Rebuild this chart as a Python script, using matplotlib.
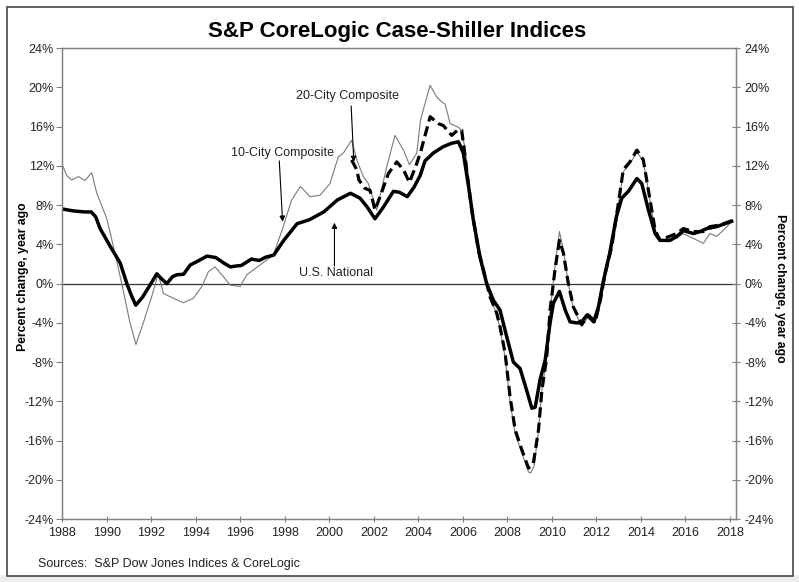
import matplotlib.pyplot as plt
from matplotlib.patches import Rectangle

plt.rcParams['font.family'] = ['Liberation Sans', 'DejaVu Sans']

# Year-over-year % change (decimal year, value)
us_national = [
    (1988.0, 7.6), (1988.5, 7.4), (1989.0, 7.3), (1989.3, 7.3), (1989.5, 6.8), (1989.7, 5.6),
    (1990.15, 3.8), (1990.6, 2.1), (1990.9, 0.0), (1991.12, -1.3), (1991.3, -2.2), (1991.6, -1.4),
    (1991.9, -0.3), (1992.25, 1.0), (1992.45, 0.5), (1992.7, 0.0), (1992.95, 0.7), (1993.15, 0.9),
    (1993.45, 0.95), (1993.75, 1.9), (1994.1, 2.3), (1994.5, 2.8), (1994.9, 2.65), (1995.25, 2.1),
    (1995.55, 1.7), (1995.85, 1.8), (1996.05, 1.85), (1996.5, 2.5), (1996.85, 2.35), (1997.15, 2.7),
    (1997.5, 2.9), (1997.95, 4.4), (1998.55, 6.1), (1999.1, 6.5), (1999.75, 7.3), (2000.35, 8.5),
    (2000.6, 8.8), (2000.95, 9.2), (2001.38, 8.7), (2001.7, 7.8), (2002.05, 6.6), (2002.43, 7.8),
    (2002.88, 9.4), (2003.15, 9.3), (2003.5, 8.85), (2003.8, 9.8), (2004.08, 11.0), (2004.3, 12.5),
    (2004.67, 13.3), (2005.12, 13.95), (2005.5, 14.3), (2005.8, 14.45), (2006.02, 13.3),
    (2006.25, 10.0), (2006.47, 6.5), (2006.77, 2.7), (2007.07, 0.0), (2007.37, -1.7),
    (2007.67, -2.7), (2007.97, -5.4), (2008.27, -8.0), (2008.57, -8.65), (2008.87, -10.9),
    (2009.1, -12.7), (2009.25, -12.6), (2009.47, -9.8), (2009.7, -7.8), (2009.92, -4.0),
    (2010.07, -2.0), (2010.34, -0.8), (2010.6, -2.7), (2010.82, -3.9), (2011.1, -4.0),
    (2011.3, -4.0), (2011.58, -3.2), (2011.88, -3.9), (2012.09, -2.4), (2012.31, 0.2),
    (2012.6, 3.1), (2012.9, 6.8), (2013.14, 8.7), (2013.44, 9.4), (2013.82, 10.7), (2014.04, 10.2),
    (2014.34, 7.5), (2014.64, 5.1), (2014.86, 4.4), (2015.31, 4.4), (2015.61, 4.8), (2015.91, 5.4),
    (2016.36, 5.1), (2016.66, 5.3), (2016.96, 5.6), (2017.41, 5.8), (2017.71, 6.05), (2018.08, 6.35),
]

city10 = [
    (1988.0, 12.1), (1988.2, 11.0), (1988.42, 10.55), (1988.72, 10.9), (1989.02, 10.5),
    (1989.32, 11.3), (1989.55, 9.2), (1990.0, 6.6), (1990.3, 3.75), (1990.67, 0.0), (1991.04, -4.0),
    (1991.31, -6.2), (1991.64, -4.0), (1992.02, -1.3), (1992.31, 1.0), (1992.54, -1.0),
    (1992.99, -1.5), (1993.44, -1.95), (1993.89, -1.5), (1994.27, -0.3), (1994.56, 1.2),
    (1994.86, 1.7), (1995.24, 0.7), (1995.54, -0.15), (1995.99, -0.3), (1996.29, 0.9),
    (1996.89, 1.9), (1997.48, 2.9), (1997.93, 5.8), (1998.3, 8.5), (1998.7, 9.9), (1999.13, 8.85),
    (1999.58, 9.0), (2000.03, 10.2), (2000.4, 12.9), (2000.63, 13.3), (2001.0, 14.6),
    (2001.25, 12.5), (2001.53, 10.9), (2001.75, 10.2), (2002.13, 7.5), (2002.58, 11.9),
    (2002.95, 15.1), (2003.33, 13.6), (2003.6, 12.1), (2003.93, 13.3), (2004.1, 16.7),
    (2004.53, 20.2), (2004.83, 19.0), (2005.05, 18.5), (2005.2, 18.3), (2005.43, 16.3),
    (2005.73, 16.0), (2005.87, 15.8), (2006.1, 13.9), (2006.4, 7.6), (2006.7, 3.4), (2007.0, 0.6),
    (2007.22, -1.4), (2007.52, -3.1), (2007.67, -4.6), (2007.9, -7.5), (2008.12, -12.0),
    (2008.35, -15.3), (2008.66, -17.3), (2008.95, -19.2), (2009.05, -19.3), (2009.2, -18.6),
    (2009.4, -15.0), (2009.55, -10.9), (2009.77, -7.5), (2009.92, -2.9), (2010.14, 1.8),
    (2010.34, 5.3), (2010.52, 3.4), (2010.74, 0.0), (2010.97, -2.6), (2011.19, -3.6),
    (2011.34, -4.3), (2011.64, -3.4), (2011.95, -4.0), (2012.18, -1.8), (2012.39, 0.9),
    (2012.69, 3.6), (2012.99, 8.0), (2013.21, 11.4), (2013.51, 12.2), (2013.82, 13.4),
    (2014.11, 12.5), (2014.34, 9.4), (2014.64, 5.3), (2014.86, 4.3), (2015.16, 4.5), (2015.61, 4.6),
    (2015.91, 5.1), (2016.36, 4.6), (2016.81, 4.1), (2017.1, 5.1), (2017.41, 4.8), (2017.71, 5.45),
    (2018.08, 6.3),
]

city20 = [
    (2001.0, 12.6), (2001.23, 11.6), (2001.33, 10.55), (2001.6, 9.7), (2001.83, 9.5),
    (2002.05, 7.5), (2002.28, 8.85), (2002.65, 11.2), (2003.03, 12.4), (2003.33, 11.6),
    (2003.6, 10.3), (2003.93, 12.25), (2004.1, 13.4), (2004.53, 17.0), (2004.9, 16.3),
    (2005.12, 16.1), (2005.5, 15.1), (2005.8, 15.7), (2005.95, 15.6), (2006.17, 11.6),
    (2006.4, 7.5), (2006.7, 3.4), (2007.0, 0.7), (2007.22, -1.35), (2007.52, -3.0),
    (2007.67, -4.4), (2007.9, -7.1), (2008.12, -11.5), (2008.35, -14.9), (2008.66, -17.0),
    (2008.95, -18.8), (2009.17, -18.3), (2009.4, -14.9), (2009.55, -10.9), (2009.77, -7.5),
    (2009.92, -2.7), (2010.14, 1.4), (2010.34, 4.4), (2010.52, 3.1), (2010.74, 0.0),
    (2010.97, -2.4), (2011.19, -3.4), (2011.34, -4.2), (2011.64, -3.2), (2011.95, -3.9),
    (2012.18, -1.7), (2012.39, 1.0), (2012.69, 3.75), (2012.99, 8.2), (2013.21, 11.6),
    (2013.51, 12.4), (2013.82, 13.6), (2014.11, 12.6), (2014.34, 9.5), (2014.64, 5.45),
    (2014.86, 4.4), (2015.16, 4.7), (2015.61, 5.1), (2015.91, 5.6), (2016.36, 5.3),
    (2016.81, 5.3), (2017.1, 5.8), (2017.55, 5.96), (2018.08, 6.4),
]

year_ticks = list(range(1988, 2019, 2))
pct_ticks = list(range(-24, 25, 4))

fig = plt.figure(figsize=(7.99, 5.82), dpi=100)
fig.patch.set_facecolor('white')

# outer frame with a light shadow below
fig.patches.append(Rectangle((0, 0), 1, 0.012, transform=fig.transFigure,
                             facecolor='#eeeeee', edgecolor='none', zorder=0))
fig.patches.append(Rectangle((0.009, 0.01), 0.983, 0.978, transform=fig.transFigure,
                             facecolor='none', edgecolor='#555555', lw=1.3, zorder=1))

ax = fig.add_axes([0.078, 0.108, 0.843, 0.8095])
grey = '#808080'
fs = 9

x, y = zip(*city10)
ax.plot(x, y, color='#7a7a7a', lw=0.8, zorder=3)
x, y = zip(*city20)
ax.plot(x, y, color='black', lw=2.3, dashes=(3.2, 1.6), zorder=4)
x, y = zip(*us_national)
ax.plot(x, y, color='black', lw=2.5, zorder=5)

ax.axhline(0, color='#333333', lw=0.9, zorder=2)

ax.set_xlim(1988, 2018.27)
ax.set_ylim(-24, 24)
ax.set_xticks(year_ticks)
ax.set_yticks(pct_ticks)
ax.set_yticklabels([f'{v}%' for v in pct_ticks])
for s in ax.spines.values():
    s.set_color(grey)
    s.set_linewidth(0.9)
ax.tick_params(axis='x', direction='inout', length=5, color=grey, labelsize=fs,
               labelcolor='#222222', pad=3)
ax.tick_params(axis='y', direction='out', length=4, color=grey, labelsize=fs,
               labelcolor='#222222', pad=2)
ax.set_ylabel('Percent change, year ago', fontsize=8.8, fontweight='bold', va='center')
ax.yaxis.set_label_coords(-0.0584, 0.515)

ax2 = ax.twinx()
ax2.set_ylim(-24, 24)
ax2.set_yticks(pct_ticks)
ax2.set_yticklabels([f'{v}%' for v in pct_ticks])
for s in ax2.spines.values():
    s.set_color(grey)
    s.set_linewidth(0.9)
ax2.tick_params(axis='y', direction='inout', length=6, color=grey, labelsize=fs,
                labelcolor='#222222', pad=3)
ax2.set_ylabel('Percent change, year ago', fontsize=8.8, fontweight='bold',
               rotation=270, va='center')
ax2.yaxis.set_label_coords(1.065, 0.49)

# callouts
arrow = dict(arrowstyle='-|>', color='black', lw=0.8, mutation_scale=8, shrinkA=0, shrinkB=0)
ax.text(2000.8, 19.1, '20-City Composite', fontsize=fs, ha='center', va='center', color='#222222')
ax.annotate('', xy=(2001.1, 12.4), xytext=(2000.98, 18.1), arrowprops=arrow)
ax.text(1997.9, 13.3, '10-City Composite', fontsize=fs, ha='center', va='center', color='#222222')
ax.annotate('', xy=(1997.9, 6.3), xytext=(1997.75, 12.5), arrowprops=arrow)
ax.text(2000.3, 1.1, 'U.S. National', fontsize=fs, ha='center', va='center', color='#222222')
ax.annotate('', xy=(2000.23, 6.2), xytext=(2000.23, 1.8), arrowprops=arrow)

fig.text(0.497, 0.946, 'S&P CoreLogic Case-Shiller Indices', fontsize=16, fontweight='bold',
         ha='center', va='center')
fig.text(0.048, 0.031, 'Sources:  S&P Dow Jones Indices & CoreLogic', fontsize=fs,
         ha='left', va='center', color='#222222')

fig.savefig('out.png', dpi=100)
